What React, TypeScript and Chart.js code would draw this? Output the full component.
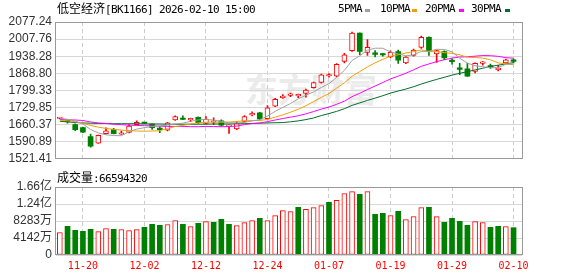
import React, { useEffect, useRef } from 'react';
import { Chart, registerables } from 'chart.js';
Chart.register(...registerables);

const TITLE_NAME = '低空经济';
const TITLE_INFO = '[BK1166] 2026-02-10 15:00';
const VOL_TITLE = '成交量';

const dates = [
  '11-17','11-18','11-19','11-20','11-21','11-24','11-25','11-26','11-27','11-28',
  '12-01','12-02','12-03','12-04','12-05','12-08','12-09','12-10','12-11','12-12',
  '12-15','12-16','12-17','12-18','12-19','12-22','12-23','12-24','12-25','12-26',
  '12-29','12-30','12-31','01-05','01-06','01-07','01-08','01-09','01-12','01-13',
  '01-14','01-15','01-16','01-19','01-20','01-21','01-22','01-23','01-26','01-27',
  '01-28','01-29','01-30','02-02','02-03','02-04','02-05','02-06','02-09','02-10'
];
const dateTickIdx = [3, 11, 19, 27, 35, 43, 51, 59];

const opens = [1685,1676,1660,1648,1612,1585,1624,1640,1621,1629,1660,1667,1662,1645,1638,1679,1683,1679,1690,1665,1670,1676,1653,1643,1673,1700,1708,1684,1735,1770,1779,1777,1787,1810,1832,1858,1857,1917,1961,2032,1954,1950,1946,1935,1957,1911,1941,1974,2015,1948,1957,1921,1889,1887,1876,1909,1897,1884,1911,1921];
const closes = [1687,1672,1640,1630,1573,1617,1635,1624,1627,1654,1670,1665,1648,1640,1668,1693,1681,1686,1668,1683,1674,1658,1656,1665,1693,1704,1683,1729,1763,1773,1782,1779,1801,1831,1863,1860,1905,1944,2032,1958,1974,1946,1943,1954,1922,1935,1963,2015,1958,1961,1931,1916,1885,1857,1909,1911,1894,1889,1924,1917];
const highs = [1689,1678,1663,1650,1622,1618,1647,1645,1635,1660,1676,1670,1664,1651,1670,1696,1696,1687,1692,1693,1688,1680,1658,1672,1697,1712,1710,1738,1767,1782,1788,1784,1805,1833,1866,1868,1908,1950,2036,2033,2006,1961,1950,1960,1963,1937,1967,2020,2017,1963,1960,1929,1909,1909,1911,1916,1906,1901,1927,1928];
const lows = [1683,1666,1636,1628,1569,1584,1622,1622,1620,1627,1658,1664,1641,1628,1635,1677,1680,1672,1665,1663,1660,1654,1625,1640,1670,1696,1680,1682,1733,1767,1774,1770,1772,1808,1829,1853,1855,1911,1958,1944,1941,1935,1938,1932,1909,1908,1938,1970,1941,1913,1924,1906,1863,1856,1870,1902,1889,1878,1909,1911];
// volume in 万
const volumes = [5441,6984,6009,5766,6253,5684,6415,6253,6172,5928,6172,6740,7471,7227,7390,8364,7471,6903,7715,8121,7958,8689,7471,7146,7877,8364,8933,8364,9582,10800,10557,11612,11125,11531,12018,12830,13318,14942,15429,14779,15429,9908,10151,9582,10638,8608,9339,11531,11612,9339,7958,8933,8202,7227,8121,7877,6740,6984,6903,6659.432];

const ma5 = [1686,1682,1675,1663,1640.4,1626.4,1619.0,1615.8,1615.2,1631.4,1642.0,1648.0,1652.8,1655.4,1658.2,1662.8,1666.0,1673.6,1679.2,1682.2,1678.4,1673.8,1667.8,1667.2,1669.2,1675.2,1680.2,1694.8,1714.4,1730.4,1746.0,1765.2,1779.6,1793.2,1811.2,1826.8,1852.0,1880.6,1920.8,1939.8,1962.6,1970.8,1970.6,1955.0,1947.8,1940.0,1943.4,1957.8,1958.6,1966.4,1965.6,1956.2,1930.2,1910.0,1899.6,1895.6,1891.2,1892.0,1905.4,1907.0];
const ma10 = [1678,1676,1672,1666,1657,1650,1645,1641,1638,1635.9,1634.2,1633.5,1634.3,1635.3,1644.8,1652.4,1657.0,1663.2,1667.3,1670.2,1670.6,1669.9,1670.7,1673.2,1675.7,1676.8,1677.0,1681.3,1690.8,1699.8,1710.6,1722.7,1737.2,1753.8,1770.8,1786.4,1808.6,1830.1,1857.0,1875.5,1894.7,1911.4,1925.6,1937.9,1943.8,1951.3,1957.1,1964.2,1956.8,1957.1,1952.8,1949.8,1944.0,1934.3,1933.0,1930.6,1923.7,1911.1,1907.7,1903.3];
const ma20 = [1681,1680,1679,1677,1671,1667,1665,1662,1660,1658,1657,1656,1655,1654,1653,1653,1653,1652,1652,1653.1,1652.4,1651.7,1652.5,1654.3,1660.3,1664.6,1667.0,1672.3,1679.1,1685.0,1690.6,1696.3,1704.0,1713.5,1723.3,1731.6,1742.8,1755.7,1773.9,1787.7,1802.7,1817.1,1831.4,1845.9,1857.3,1868.9,1882.9,1897.2,1906.9,1916.3,1923.8,1930.6,1934.8,1936.1,1938.4,1941.0,1940.4,1937.7,1932.3,1930.2];
const ma30 = [1674,1671,1669,1667,1666,1665,1665,1664,1664,1664,1664,1663,1663,1663,1662,1662,1662,1662,1662,1662,1663,1663,1663,1664,1664,1665,1666,1667,1668,1668.6,1671.8,1675.4,1680.7,1687.4,1697.1,1705.2,1714.2,1724.9,1738.4,1748.5,1758.6,1768.0,1777.8,1788.3,1796.8,1804.8,1814.2,1825.2,1834.9,1844.1,1852.7,1861.3,1868.9,1875.3,1882.5,1889.4,1896.5,1901.8,1907.2,1912.0];

const priceTicks = [1521.41,1590.89,1660.37,1729.85,1799.33,1868.80,1938.28,2007.76,2077.24];
const priceTickLabels = ['1521.41','1590.89','1660.37','1729.85','1799.33','1868.80','1938.28','2007.76','2077.24'];
const volTicks = [0, 4141.5, 8283, 12424.5, 16566];
const volTickLabels = ['0','4142万','8283万','1.24亿','1.66亿'];

const maNames = ['5PMA','10PMA','20PMA','30PMA'];

const RED = '#ff0000';
const GREEN = '#008000';
const MA_COLORS = ['#a0a0a0', '#f0a000', '#ff00ff', '#006e2e'];

const boxPlugin = {
  id: 'boxBorder',
  afterDraw(chart: any) {
    const { ctx, chartArea: a } = chart;
    ctx.save();
    ctx.strokeStyle = '#999999';
    ctx.lineWidth = 1;
    ctx.setLineDash([]);
    ctx.strokeRect(Math.round(a.left) - 0.5, Math.round(a.top) + 0.5, Math.round(a.right - a.left) + 1, Math.round(a.bottom - a.top) - 1);
    ctx.restore();
  }
};

const LABEL_FONT = { family: '"Liberation Sans", Arial, "Noto Sans CJK SC", sans-serif', size: 12 };
const X_MIN = -0.5;
const X_MAX = 60.1;

export default function App() {
  const c1 = useRef<HTMLCanvasElement>(null);
  const c2 = useRef<HTMLCanvasElement>(null);

  useEffect(() => {
    const up = closes.map((c, i) => c >= opens[i]);
    const volUp = closes.map((c, i) => (i === 0 ? c >= opens[0] : c >= closes[i - 1]));
    const xs = dates.map((_, i) => i);

    const xBase = (showLabels: boolean, h: number) => ({
      type: 'linear' as const,
      min: X_MIN,
      max: X_MAX,
      offset: false,
      afterBuildTicks: (s: any) => { s.ticks = dateTickIdx.map(v => ({ value: v })); },
      afterFit: (s: any) => { s.height = h; },
      ticks: {
        display: showLabels,
        autoSkip: false,
        maxRotation: 0,
        padding: 5,
        color: RED,
        font: { family: '"DejaVu Sans Mono", monospace', size: 10 },
        callback: (v: any) => dates[v as number]
      },
      grid: { color: '#cccccc', drawTicks: false, lineWidth: 1, offset: false },
      border: { display: false, dash: [4, 3] }
    });

    const ch1 = new Chart(c1.current!, {
      type: 'bar',
      data: {
        datasets: [
          ...[ma5, ma10, ma20, ma30].map((arr, k) => ({
            type: 'line' as const,
            label: maNames[k],
            data: xs.map(i => ({ x: i, y: arr[i] })),
            borderColor: MA_COLORS[k],
            borderWidth: 1,
            pointRadius: 0,
            tension: 0,
            order: 0
          })),
          {
            type: 'bar' as const,
            label: 'body',
            data: xs.map(i => ({ x: i, y: [opens[i], closes[i]] })) as any,
            backgroundColor: xs.map(i => (up[i] ? '#ffffff' : GREEN)),
            borderColor: xs.map(i => (up[i] ? RED : GREEN)),
            borderWidth: xs.map(i => (up[i] ? 1 : 0)) as any,
            borderSkipped: false,
            barThickness: 5,
            minBarLength: 1.5,
            grouped: false,
            order: 1
          },
          {
            type: 'bar' as const,
            label: 'wick',
            data: xs.map(i => ({ x: i, y: [lows[i], highs[i]] })) as any,
            backgroundColor: xs.map(i => (up[i] ? RED : GREEN)),
            borderWidth: 0,
            barThickness: 1,
            grouped: false,
            order: 2
          }
        ] as any
      },
      options: {
        animation: false,
        responsive: false,
        devicePixelRatio: 1,
        layout: { padding: { left: 0, right: 56, top: 22, bottom: 5 } },
        plugins: { legend: { display: false }, tooltip: { enabled: false } },
        scales: {
          x: xBase(false, 0) as any,
          y: {
            min: priceTicks[0],
            max: priceTicks[priceTicks.length - 1],
            afterBuildTicks: (s: any) => { s.ticks = priceTicks.map(v => ({ value: v })); },
            afterFit: (s: any) => { s.width = 56; },
            ticks: {
              autoSkip: false,
              padding: 4,
              color: '#333333',
              font: LABEL_FONT,
              callback: (_v: any, i: number) => priceTickLabels[i]
            },
            grid: { color: '#d8d8d8', drawTicks: false, lineWidth: 1 },
            border: { display: false }
          }
        }
      },
      plugins: [boxPlugin]
    });

    const ch2 = new Chart(c2.current!, {
      type: 'bar',
      data: {
        datasets: [
          {
            label: 'volume',
            data: xs.map(i => ({ x: i, y: volumes[i] })) as any,
            backgroundColor: xs.map(i => (volUp[i] ? '#ffffff' : GREEN)),
            borderColor: xs.map(i => (volUp[i] ? RED : GREEN)),
            borderWidth: xs.map(i => (volUp[i] ? 1 : 0)) as any,
            borderSkipped: false,
            barThickness: 5,
            grouped: false
          }
        ]
      },
      options: {
        animation: false,
        responsive: false,
        devicePixelRatio: 1,
        layout: { padding: { left: 0, right: 56, top: 17, bottom: 0 } },
        plugins: { legend: { display: false }, tooltip: { enabled: false } },
        scales: {
          x: xBase(true, 21) as any,
          y: {
            min: volTicks[0],
            max: volTicks[volTicks.length - 1],
            afterBuildTicks: (s: any) => { s.ticks = volTicks.map(v => ({ value: v })); },
            afterFit: (s: any) => { s.width = 56; },
            ticks: {
              autoSkip: false,
              padding: 4,
              color: '#333333',
              font: LABEL_FONT,
              callback: (_v: any, i: number) => volTickLabels[i]
            },
            grid: { color: '#d8d8d8', drawTicks: false, lineWidth: 1 },
            border: { display: false }
          }
        }
      },
      plugins: [boxPlugin]
    });

    return () => { ch1.destroy(); ch2.destroy(); };
  }, []);

  const cjk: React.CSSProperties = { fontFamily: '"Noto Sans CJK SC", sans-serif', fontSize: 12 };
  const mono: React.CSSProperties = { fontFamily: '"DejaVu Sans Mono", monospace', fontSize: 11, letterSpacing: '-0.62px', color: '#000' };
  const legendLabelLeft = [338, 380, 425, 471];
  const legendMarkLeft = [365, 412, 459, 505];

  return (
    <div style={{ position: 'absolute', left: 0, top: 0, width: 578, height: 276, background: '#fff', overflow: 'hidden' }}>
      <div style={{ position: 'absolute', left: 245, top: 70, fontFamily: '"Noto Sans CJK SC", sans-serif', fontWeight: 700, fontSize: 33, lineHeight: '36px', color: '#ebebeb', whiteSpace: 'nowrap' }}>东方财富</div>
      <canvas ref={c1} width={578} height={170} style={{ position: 'absolute', left: 0, top: 0 }} />
      <canvas ref={c2} width={578} height={106} style={{ position: 'absolute', left: 0, top: 170 }} />
      <div style={{ position: 'absolute', left: 57, top: 1, ...cjk, lineHeight: '14px', whiteSpace: 'nowrap', color: '#000' }}>
        <span>{TITLE_NAME}</span><span style={mono}>{TITLE_INFO}</span>
      </div>
      {maNames.map((n, k) => (
        <React.Fragment key={n}>
          <div style={{ position: 'absolute', left: legendLabelLeft[k], top: 2, ...mono, lineHeight: '14px', whiteSpace: 'nowrap' }}>{n}</div>
          <div style={{ position: 'absolute', left: legendMarkLeft[k], top: 9, width: 5, height: 3, background: MA_COLORS[k] }} />
        </React.Fragment>
      ))}
      <div style={{ position: 'absolute', left: 57, top: 169.5, ...cjk, lineHeight: '14px', whiteSpace: 'nowrap', color: '#000' }}>
        <span>{VOL_TITLE}</span><span style={mono}>{':' + Math.round(volumes[volumes.length - 1] * 10000)}</span>
      </div>
    </div>
  );
}
